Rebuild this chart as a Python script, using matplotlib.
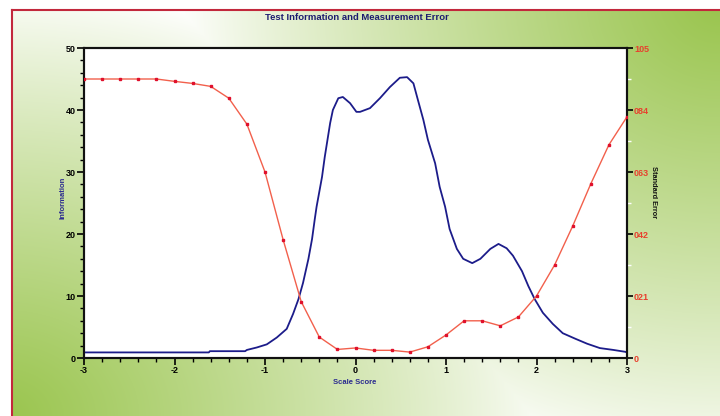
import numpy as np
import matplotlib
matplotlib.use("Agg")
import matplotlib.pyplot as plt
from matplotlib.lines import Line2D
from matplotlib.ticker import MultipleLocator, FixedLocator

plt.rcParams['font.family'] = ['Liberation Sans', 'DejaVu Sans']

# test information curve
info_score = [-3.0, -1.62, -1.61, -1.22, -1.2, -1.09, -0.98, -0.87, -0.76, -0.69,
              -0.63, -0.58, -0.52, -0.48, -0.45, -0.43, -0.37, -0.34, -0.28, -0.25,
              -0.19, -0.14, -0.06, 0.01, 0.05, 0.16, 0.27, 0.38, 0.49, 0.57,
              0.64, 0.69, 0.75, 0.80, 0.88, 0.93, 0.99, 1.04, 1.12, 1.19,
              1.29, 1.38, 1.49, 1.58, 1.67, 1.74, 1.84, 1.91, 1.98, 2.07,
              2.18, 2.29, 2.43, 2.56, 2.70, 2.85, 2.98, 3.0]
info_value = [0.9, 0.9, 1.1, 1.1, 1.3, 1.7, 2.2, 3.3, 4.7, 7.1,
              9.5, 12.1, 16.0, 19.2, 22.4, 24.4, 29.2, 32.4, 37.9, 40.0,
              41.9, 42.1, 41.1, 39.7, 39.7, 40.3, 41.9, 43.7, 45.2, 45.3,
              44.3, 41.6, 38.4, 35.2, 31.4, 27.6, 24.4, 20.8, 17.6, 16.0,
              15.3, 16.0, 17.6, 18.4, 17.7, 16.5, 14.0, 11.6, 9.5, 7.3,
              5.5, 4.0, 3.1, 2.3, 1.6, 1.3, 1.0, 0.9]

# standard error at each 0.2 step
se_score = [-3.0, -2.8, -2.6, -2.4, -2.2, -2.0, -1.8, -1.6, -1.4, -1.2,
            -1.0, -0.8, -0.6, -0.4, -0.2, 0.0, 0.2, 0.4, 0.6, 0.8,
            1.0, 1.2, 1.4, 1.6, 1.8, 2.0, 2.2, 2.4, 2.6, 2.8, 3.0]
se_value = [0.945, 0.945, 0.945, 0.945, 0.945, 0.937, 0.930, 0.920, 0.880, 0.792,
            0.630, 0.401, 0.191, 0.071, 0.029, 0.034, 0.026, 0.026, 0.020, 0.038,
            0.078, 0.126, 0.126, 0.109, 0.139, 0.210, 0.315, 0.447, 0.590, 0.722, 0.817]

x_ticks = [-3, -2, -1, 0, 1, 2, 3]
x_labels = ["-3", "-2", "-1", "0", "1", "2", "3"]
left_ticks = [0, 10, 20, 30, 40, 50]
right_ticks = [0, 0.21, 0.42, 0.63, 0.84, 1.05]
right_labels = ["0", "021", "042", "063", "084", "105"]

W, H = 720, 416
fig = plt.figure(figsize=(W / 100, H / 100), dpi=100)

# green corners (top right, bottom left) fading to white, white margin
bg = fig.add_axes([0, 0, 1, 1])
yy, xx = np.mgrid[0:H, 0:W]
d_tr = np.hypot((xx - W) / 1.15, yy)
d_bl = np.hypot(xx / 1.3, (yy - H))
g = np.maximum(np.clip(1 - d_tr / 470, 0, 1), np.clip(1 - d_bl / 430, 0, 1)) ** 0.85
green = np.array([0.60, 0.77, 0.30])
img = 1 - g[..., None] * (1 - green)
img[(xx < 12) | (yy < 10)] = 1.0
bg.imshow(img, extent=[0, W, H, 0], aspect="auto", interpolation="bilinear")
bg.set_xlim(0, W)
bg.set_ylim(H, 0)
bg.axis("off")
fig.add_artist(Line2D([12 / W, 12 / W], [0, 1 - 10 / H], color="#c2283c", lw=1.5))
fig.add_artist(Line2D([12 / W, 1], [1 - 10 / H, 1 - 10 / H], color="#c2283c", lw=1.5))

ax = fig.add_axes([84 / W, 58 / H, 543 / W, 310 / H])
ax.set_facecolor("white")
ax.plot(info_score, info_value, color="#1c1c8a", lw=1.3, zorder=3)
ax.set_xlim(-3, 3)
ax.set_ylim(0, 50)
ax.xaxis.set_major_locator(FixedLocator(x_ticks))
ax.set_xticklabels(x_labels)
ax.xaxis.set_minor_locator(MultipleLocator(0.2))
ax.yaxis.set_major_locator(FixedLocator(left_ticks))
ax.yaxis.set_minor_locator(MultipleLocator(2))
ax.tick_params(axis="both", which="major", length=5, width=1.2, labelsize=6.5, pad=1)
ax.tick_params(axis="both", which="minor", length=3, width=1.0)
for lab in ax.get_xticklabels() + ax.get_yticklabels():
    lab.set_fontweight("bold")
for s in ax.spines.values():
    s.set_linewidth(1.5)
    s.set_color("#111111")

ax2 = ax.twinx()
ax2.plot(se_score, se_value, color="#f2604c", lw=1.0, marker="s", markersize=1.5,
         markerfacecolor="#e0102c", markeredgecolor="#e0102c", zorder=4)
ax2.set_ylim(0, 1.05)
ax2.yaxis.set_major_locator(FixedLocator(right_ticks))
ax2.set_yticklabels(right_labels)
ax2.yaxis.set_minor_locator(FixedLocator([0.105, 0.315, 0.525, 0.735, 0.945]))
ax2.tick_params(axis="y", which="major", length=4, width=1.2, labelsize=6.5, pad=1,
                labelcolor="#e8402e")
ax2.tick_params(axis="y", which="minor", length=3, width=1.0, color="white")
for lab in ax2.get_yticklabels():
    lab.set_fontweight("bold")
for s in ax2.spines.values():
    s.set_linewidth(1.5)
    s.set_color("#111111")

fig.text(357 / W, 1 - 17 / H, "Test Information and Measurement Error", ha="center", va="center",
         fontsize=6.8, fontweight="bold", color="#1c1c70")
fig.text(63 / W, 1 - 198 / H, "Information", ha="center", va="center", rotation=90,
         fontsize=5.5, fontweight="bold", color="#2a2a90")
fig.text(654 / W, 1 - 192 / H, "Standard Error", ha="center", va="center", rotation=270,
         fontsize=5.3, fontweight="bold", color="#111111")
fig.text(355 / W, 1 - 383 / H, "Scale Score", ha="center", va="center",
         fontsize=5.5, fontweight="bold", color="#2a2a90")

fig.savefig("out.png", dpi=100)
